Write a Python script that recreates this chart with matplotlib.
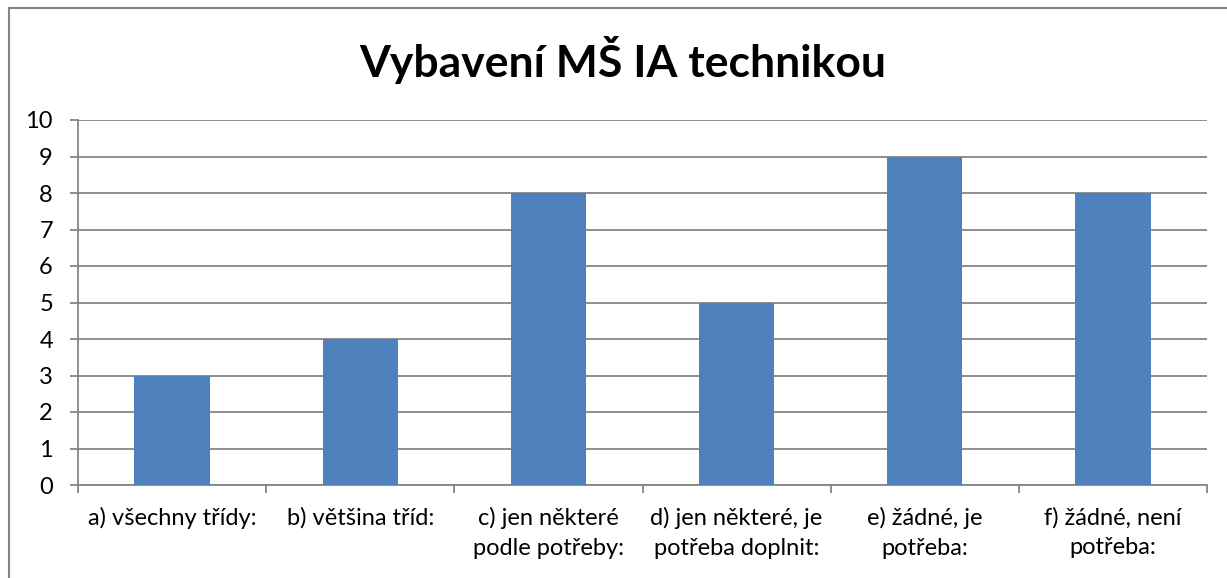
import matplotlib
matplotlib.use('Agg')
import matplotlib.pyplot as plt
from matplotlib.patches import Rectangle

# data
categories = ['a) všechny třídy:', 'b) většina tříd:', 'c) jen některé\npodle potřeby:',
              'd) jen některé, je\npotřeba doplnit:', 'e) žádné, je\npotřeba:',
              'f) žádné, není\npotřeba:']
values = [3, 4, 8, 5, 9, 8]
yticks = list(range(0, 11))

plt.rcParams['font.family'] = ['Lato', 'DejaVu Sans']

fig = plt.figure(figsize=(12.27, 5.78), dpi=100)
ax = fig.add_axes([78 / 1227, 1 - 485 / 578, (1207 - 78) / 1227, (485 - 120) / 578])

# outer chart border (open on the right / bottom like the crop)
fig.patches.append(Rectangle((9 / 1227, -0.1), 1.2, 1.1 - 8 / 578, transform=fig.transFigure,
                             fill=False, edgecolor='#868686', linewidth=1.5, zorder=0))

x = list(range(len(values)))
ax.bar(x, values, width=0.4, color='#4F81BD', zorder=3)

ax.set_xlim(-0.5, len(values) - 0.5)
ax.set_ylim(0, 10)
ax.set_yticks(yticks)
ax.yaxis.grid(True, color='#868686', linewidth=1.3)
ax.set_axisbelow(True)

ax.set_xticks([i - 0.5 for i in range(len(values) + 1)])
ax.set_xticklabels([])
ax.set_xticks(x, minor=True)
ax.set_xticklabels(categories, minor=True, fontsize=17, linespacing=1.5)
ax.tick_params(axis='x', which='minor', length=0, pad=16)
ax.tick_params(axis='x', which='major', length=6, width=1.3, color='#868686')
ax.tick_params(axis='y', length=6, width=1.3, color='#868686', labelsize=17, pad=12)

for s in ['top', 'right']:
    ax.spines[s].set_visible(False)
for s in ['left', 'bottom']:
    ax.spines[s].set_color('#868686')
    ax.spines[s].set_linewidth(1.3)

fig.text(623 / 1227, 1 - 60 / 578, 'Vybavení MŠ IA technikou', ha='center', va='center',
         fontsize=32, fontweight='bold')

fig.savefig('out.png', dpi=100)
